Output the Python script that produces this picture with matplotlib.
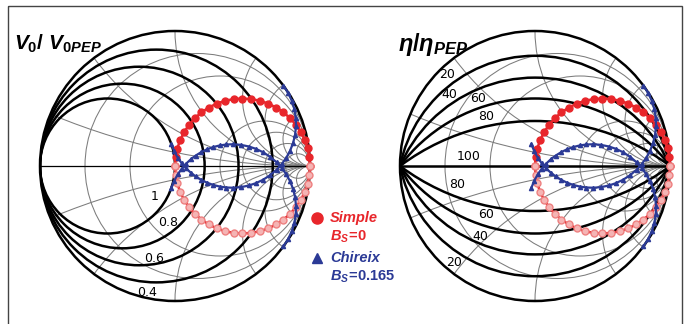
import numpy as np
import matplotlib
matplotlib.use("Agg")
import matplotlib.pyplot as plt
from matplotlib.patches import Circle, Rectangle

# ----------------------------------------------------------------------------
#  DATA
# ----------------------------------------------------------------------------
# outphasing angle (deg) of the plotted load points
simple_theta  = [0, 7.5, 14.7, 21.7, 28.2, 34.2, 39.6, 44.6, 49.1, 53.2, 56.9, 60.3,
                 63.4, 66.3, 69.0, 71.5, 73.9, 76.1, 78.3, 80.4, 82.4, 84.3, 86.2, 88.1, 90]
chireix_theta = [0, 6.5, 12.5, 18, 23, 27.5, 31.5, 35.5, 39, 42.5, 46, 49, 52, 55, 58,
                 60.5, 63, 65.5, 68, 70, 72, 74, 76, 78, 80, 82, 84, 86, 88, 90]
chireix_bs    = 0.165   # shunt susceptance (normalised to 1/R_L)

v0_levels  = [1, 0.8, 0.6, 0.4]        # V0/V0PEP contours
eta_levels = [80, 60, 40, 20]          # eta/etaPEP contours (%)

# smith chart grid values
grid_r = [0.2, 0.5, 1, 2, 3, 5, 10]
grid_x = [0.2, 0.5, 1, 2, 3, 5, 10]

RED   = '#e8262b'
BLUE  = '#2b3a96'
GRAY  = '#7c7c7c'

W, H = 689, 324
R_PX = 135.0


def px2g(cx, px, py):
    # pixel position -> reflection coefficient plane of chart centred at cx
    return (px - cx) / R_PX, (166 - py) / R_PX


def gamma_from_y(y):
    return (1 - y) / (1 + y)


def smith_axes(fig, cx):
    half = 1.05 * R_PX
    ax = fig.add_axes([(cx - half) / W, (H - 166 - half) / H, 2 * half / W, 2 * half / H])
    ax.set_xlim(-1.05, 1.05)
    ax.set_ylim(-1.05, 1.05)
    ax.set_aspect('equal')
    ax.set_axis_off()
    return ax


def clipped_circle(ax, xy, rad, **kw):
    c = Circle(xy, rad, fill=False, **kw)
    ax.add_patch(c)
    c.set_clip_path(Circle((0, 0), 1.0, transform=ax.transData))
    return c


def draw_grid(ax, axis_lw):
    for r in grid_r:
        clipped_circle(ax, (r / (1 + r), 0), 1 / (1 + r), ec=GRAY, lw=0.75, zorder=1)
    for x in grid_x:
        for s in (1, -1):
            clipped_circle(ax, (1, s / x), 1 / x, ec=GRAY, lw=0.75, zorder=1)
    ax.plot([-1, 1], [0, 0], color='black', lw=axis_lw, zorder=2)
    ax.add_patch(Circle((0, 0), 1.0, fill=False, ec='black', lw=1.8, zorder=3))


def draw_traces(ax):
    t = np.radians(simple_theta)
    g = gamma_from_y(np.cos(t) * np.exp(-1j * t))
    ax.plot(g.real, g.imag, color=RED, lw=1.8, marker='o', ms=5, mfc=RED, mec=RED, zorder=5)
    ax.plot(g.real, -g.imag, color=RED, lw=1.8, marker='o', ms=5,
            mfc='#f5b4b4', mec='#ee8080', zorder=5)

    b = 2 * chireix_bs   # chart normalised to R_L/2
    t = np.radians(chireix_theta)
    g = gamma_from_y(np.cos(t) * np.exp(-1j * t) + 1j * b)
    for sgn in (1, -1):
        ax.plot(g.real, sgn * g.imag, color=BLUE, lw=1.6, marker='^', ms=3,
                mfc=BLUE, mec=BLUE, zorder=6)


plt.rcParams['mathtext.fontset'] = 'custom'
plt.rcParams['mathtext.it'] = 'Liberation Sans:italic:bold'
plt.rcParams['mathtext.rm'] = 'Liberation Sans:bold'
plt.rcParams['mathtext.bf'] = 'Liberation Sans:bold'

fig = plt.figure(figsize=(W / 100, H / 100), dpi=100)

# ---------------- left chart : V0 / V0PEP ----------------
cxL = 175
axL = smith_axes(fig, cxL)
draw_grid(axL, 0.9)
for v in v0_levels:
    gl = v ** 2
    clipped_circle(axL, (-gl / (1 + gl), 0), 1 / (1 + gl), ec='black', lw=1.8, zorder=3)
v0_pos = [(155, 197), (168, 223), (154, 258), (147, 292)]
for v, (px, py) in zip(v0_levels, v0_pos):
    axL.text(*px2g(cxL, px, py), '%g' % v, ha='center', va='center', fontsize=9,
             family='DejaVu Sans', zorder=4)
draw_traces(axL)

# ---------------- right chart : eta / etaPEP ----------------
cxR = 535
axR = smith_axes(fig, cxR)
draw_grid(axR, 1.8)
for e in eta_levels:
    h = np.tan(np.arccos(e / 100) / 2)
    k0 = (1 - h ** 2) / (2 * h)
    for s in (1, -1):
        clipped_circle(axR, (0, -s * k0), np.sqrt(1 + k0 ** 2), ec='black', lw=1.8, zorder=3)
eta_pos_up = [(486, 117), (478, 98), (449, 94), (447, 75)]
eta_pos_dn = [(457, 184), (486, 215), (480, 236), (454, 263)]
for e, pu, pd in zip(eta_levels, eta_pos_up, eta_pos_dn):
    for px, py in (pu, pd):
        axR.text(*px2g(cxR, px, py), str(e), ha='center', va='center', fontsize=9,
                 family='DejaVu Sans', zorder=4)
axR.text(*px2g(cxR, 469, 157), '100', ha='center', va='center', fontsize=9,
         family='DejaVu Sans', zorder=4)
draw_traces(axR)

# ---------------- overlay : frame, titles, legend ----------------
ov = fig.add_axes([0, 0, 1, 1], zorder=-1)
ov.set_xlim(0, W)
ov.set_ylim(H, 0)
ov.set_axis_off()
ov.add_patch(Rectangle((8, 6), 674, 330, fill=False, ec='#444444', lw=1.0))

fig.text(14 / W, 1 - 44 / H, r'$V_0/\ V_{0PEP}$', fontsize=15, va='center', ha='left')
fig.text(398 / W, 1 - 44 / H, r'$\eta/\eta_{PEP}$', fontsize=17, va='center', ha='left')

ov.plot([317], [218], marker='o', ms=8, color=RED, ls='none')
ov.plot([317], [258], marker='^', ms=7, color=BLUE, ls='none')
fig.text(330 / W, 1 - 218 / H, 'Simple', color=RED, fontsize=10.5, style='italic',
         weight='bold', family='Liberation Sans', va='center')
fig.text(330 / W, 1 - 237 / H, r'$B_S\!=\!0$', color=RED, fontsize=10.5, va='center')
fig.text(330 / W, 1 - 258 / H, 'Chireix', color=BLUE, fontsize=10.5, style='italic',
         weight='bold', family='Liberation Sans', va='center')
fig.text(330 / W, 1 - 277 / H, r'$B_S\!=\!0.165$', color=BLUE, fontsize=10.5, va='center')

fig.savefig('out.png', dpi=100)
